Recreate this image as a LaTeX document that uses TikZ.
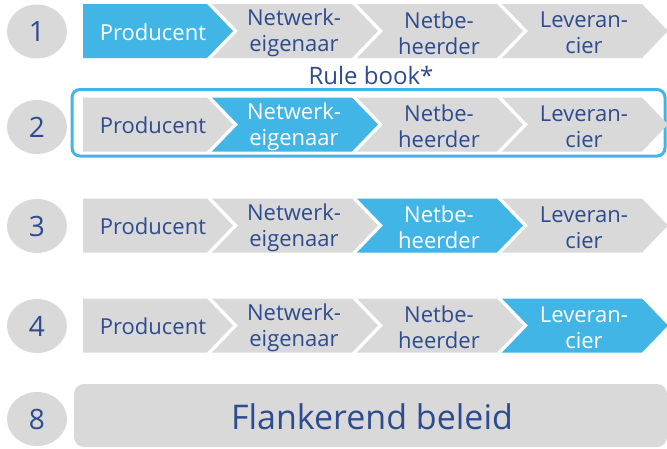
\documentclass[tikz,border=0pt]{standalone}
\usepackage{fontspec}
\setmainfont{Open Sans}
\usetikzlibrary{shapes.geometric}
\definecolor{cblue}{RGB}{65,181,229}
\definecolor{cgray}{RGB}{217,217,217}
\definecolor{ctext}{RGB}{45,75,142}
\tikzset{
  pics/chevfirst/.style={code={\fill[#1] (0,-27) -- (124,-27) -- (150,0) -- (124,27) -- (0,27) -- cycle;}},
  pics/chevnext/.style={code={\fill[#1] (0,-27) -- (140,-27) -- (166,0) -- (140,27) -- (0,27) -- (26,0) -- cycle;}},
  numcirc/.style={ellipse, fill=cgray, minimum width=60pt, minimum height=54pt, inner sep=0pt, text=ctext, font=\fontsize{28}{28}\selectfont},
  lbl/.style={align=center, text=ctext, font=\fontsize{22}{26}\selectfont, inner sep=0pt},
  lblw/.style={lbl, text=white},
}
\begin{document}
\begin{tikzpicture}[x=1pt,y=-1pt]
\useasboundingbox (0,0) rectangle (667,448);
% rule book frame
\draw[cblue, line width=3pt, rounded corners=8pt] (72,89.5) rectangle (665,156);
\node[lbl, font=\fontsize{24}{26}\selectfont] (rb) at (371,75) {Rule book*};
% rows
\foreach \r/\yc/\cy/\hi in {1/31/31.5/1, 2/124.5/127/2, 3/225.5/226/3, 4/325.5/326/4}{
  \node[numcirc] (n\r) at (37,\cy) {\r};
  \ifnum\hi=1 \pic at (83,\yc) {chevfirst=cblue}; \else \pic at (83,\yc) {chevfirst=cgray}; \fi
  \ifnum\hi=2 \pic at (212,\yc) {chevnext=cblue}; \else \pic at (212,\yc) {chevnext=cgray}; \fi
  \ifnum\hi=3 \pic at (357,\yc) {chevnext=cblue}; \else \pic at (357,\yc) {chevnext=cgray}; \fi
  \ifnum\hi=4 \pic at (502,\yc) {chevnext=cblue}; \else \pic at (502,\yc) {chevnext=cgray}; \fi
  \ifnum\hi=1 \node[lblw] (p\r) at (153,\yc+1) {Producent}; \else \node[lbl] (p\r) at (153,\yc+1) {Producent}; \fi
  \ifnum\hi=2 \node[lblw] (e\r) at (294,\yc+2) {Netwerk-\\eigenaar}; \else \node[lbl] (e\r) at (294,\yc+2) {Netwerk-\\eigenaar}; \fi
  \ifnum\hi=3 \node[lblw] (b\r) at (439,\yc+2) {Netbe-\\heerder}; \else \node[lbl] (b\r) at (439,\yc+2) {Netbe-\\heerder}; \fi
  \ifnum\hi=4 \node[lblw] (l\r) at (584,\yc+2) {Leveran-\\cier}; \else \node[lbl] (l\r) at (584,\yc+2) {Leveran-\\cier}; \fi
}
% row 8
\node[numcirc] (n8) at (37,419) {8};
\fill[cgray, rounded corners=10pt] (74,384) rectangle (667,447);
\node[lbl, font=\fontsize{34}{34}\selectfont] (fb) at (372,417) {Flankerend beleid};
\end{tikzpicture}
\end{document}
